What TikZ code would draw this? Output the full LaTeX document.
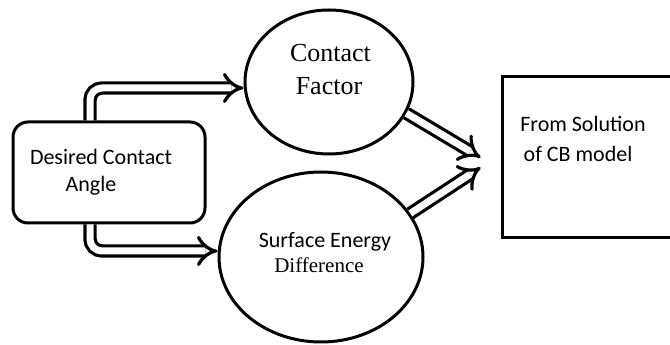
\documentclass[tikz,border=0pt]{standalone}
\usepackage{fontspec}
\setmainfont{Liberation Serif}
\newfontfamily\calfont{Carlito}
\usetikzlibrary{arrows.meta,shapes.geometric}
\tikzset{
  shp/.style={draw, line width=3pt, inner sep=0pt},
  dbl/.style={line width=3.2pt, double distance=7pt, -{Implies}, rounded corners=12pt},
  ctxt/.style={anchor=base, inner sep=0pt, font=\calfont\fontsize{22}{26}\selectfont},
  stxt/.style={anchor=base, inner sep=0pt},
}
\begin{document}
\begin{tikzpicture}[x=1pt,y=1pt]
\useasboundingbox (0,0) rectangle (670,345);
\node[shp, rounded corners=15pt, minimum width=192pt, minimum height=101pt] (desired) at (109,172.5) {};
\node[shp, ellipse, minimum width=168pt, minimum height=144pt] (cf) at (329,263) {};
\node[shp, ellipse, minimum width=204pt, minimum height=170pt] (se) at (321,88) {};
\node[shp, rectangle, minimum width=172pt, minimum height=161pt] (cb) at (588,187.5) {};
\node[ctxt] (d1) at (101,180) {Desired Contact};
\node[ctxt] (d2) at (91,153) {Angle};
\node[stxt, font=\fontsize{26}{30}\selectfont] (c1) at (330.5,283) {Contact};
\node[stxt, font=\fontsize{26}{30}\selectfont] (c2) at (329,250) {Factor};
\node[ctxt] (s1) at (325,97) {Surface Energy};
\node[stxt, font=\fontsize{21}{25}\selectfont] (s2) at (319,72) {Difference};
\node[ctxt] (b1) at (583,213) {From Solution};
\node[ctxt] (b2) at (578,183) {of CB model};
\draw[dbl] ([xshift=-19pt]desired.north) |- ([yshift=-6pt]cf.west);
\draw[dbl] ([xshift=-19pt]desired.south) |- ([yshift=6pt]se.west);
\draw[dbl] (cf.-22) -- ([xshift=-20pt]cb.west);
\draw[dbl] (se.26) -- ([xshift=-20pt,yshift=-10pt]cb.west);
\end{tikzpicture}
\end{document}
